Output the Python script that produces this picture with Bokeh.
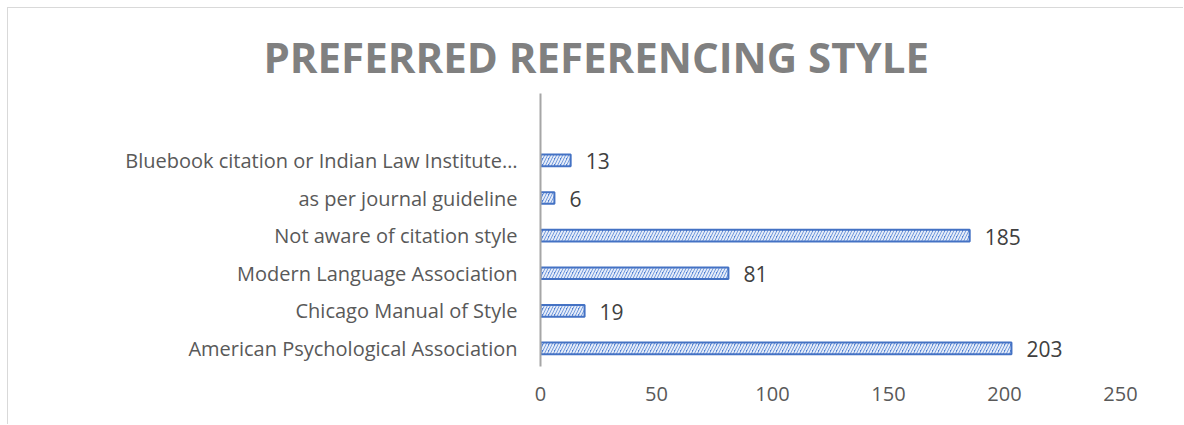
from bokeh.plotting import figure
from bokeh.models import ColumnDataSource, Range1d, FixedTicker, Title
from bokeh.core.properties import value
from bokeh.embed import file_html
from bokeh.resources import INLINE

categories = [
    "American Psychological Association",
    "Chicago Manual of Style",
    "Modern Language Association",
    "Not aware of citation style",
    "as per journal guideline",
    "Bluebook citation or Indian Law Institute\u2026",
]
counts = [203, 19, 81, 185, 6, 13]
x_ticks = [0, 50, 100, 150, 200, 250]
title_text = "PREFERRED REFERENCING STYLE"

idx = list(range(len(categories)))
src = ColumnDataSource(dict(y=idx, right=counts, label=[str(c) for c in counts]))

W, H = 1176, 417
FL, FT, FB, FW = 532, 85, 358, 580  # frame geometry in canvas px
p = figure(width=W, height=H, output_backend="svg", toolbar_location=None,
           x_range=Range1d(0, 250), y_range=Range1d(-0.48, 6.78),
           min_border_left=FL, min_border_right=W - FL - FW, min_border_top=FT,
           min_border_bottom=H - FB, background_fill_color="white",
           border_fill_color="white")
p.outline_line_color = None
p.grid.visible = False
p.styles = {"margin-left": "7px", "margin-top": "7px",
            "border-left": "1px solid #d9d9d9", "border-top": "1px solid #d9d9d9"}

p.hbar(y="y", right="right", left=0, height=0.31, source=src,
       fill_color="#4E7FD3", line_color="#4472C4", line_width=2,
       hatch_pattern="/", hatch_color="white", hatch_scale=6,
       hatch_weight=2, hatch_alpha=0.85)

p.text(x="right", y="y", text="label", source=src, x_offset=15, y_offset=1,
       text_baseline="middle", text_align="left",
       text_font=value("Open Sans"), text_font_size="21px", text_color="#404040")

xa = p.xaxis[0]
xa.ticker = FixedTicker(ticks=x_ticks)
xa.axis_line_color = None
xa.major_tick_line_color = None
xa.minor_tick_line_color = None
xa.major_label_standoff = 14
xa.major_label_text_font = "Open Sans"
xa.major_label_text_font_size = "20px"
xa.major_label_text_color = "#595959"

ya = p.yaxis[0]
ya.ticker = FixedTicker(ticks=idx)
ya.major_label_overrides = {i: c for i, c in zip(idx, categories)}
ya.axis_line_color = "#a6a6a6"
ya.axis_line_width = 2
ya.major_tick_line_color = None
ya.minor_tick_line_color = None
ya.major_label_standoff = 17
ya.major_label_text_font = "Open Sans"
ya.major_label_text_font_size = "20px"
ya.major_label_text_color = "#595959"

t = Title(text=title_text, align="left", offset=-277,
          text_font="Open Sans", text_font_size="42px", text_font_style="bold",
          text_color="#808080", standoff=17)
p.add_layout(t, "above")

open("out.html", "w").write(file_html(p, INLINE))
